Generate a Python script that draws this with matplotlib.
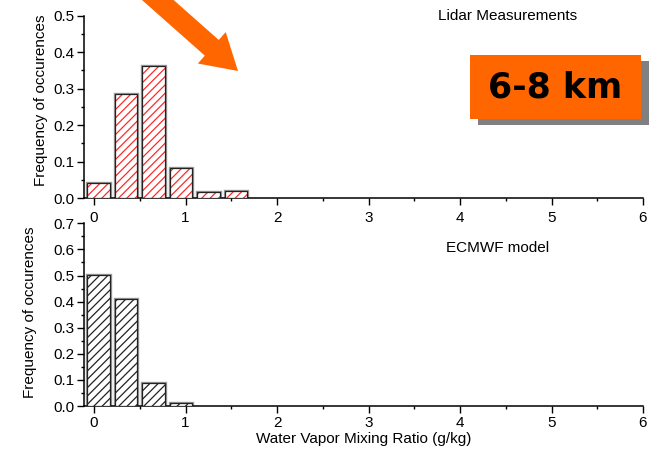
import matplotlib
matplotlib.use("Agg")
import matplotlib.pyplot as plt
from matplotlib.ticker import MultipleLocator, FormatStrFormatter
from matplotlib.patches import Rectangle, Polygon
import numpy as np

plt.rcParams['font.family'] = ['Liberation Sans', 'DejaVu Sans']
plt.rcParams['hatch.linewidth'] = 0.9

# Histogram bins of water vapour mixing ratio (g/kg), 6-8 km layer
bin_centers = [0.05, 0.35, 0.65, 0.95, 1.25, 1.55]
bin_width = 0.3
lidar_freq = [0.041, 0.284, 0.363, 0.082, 0.016, 0.020]
ecmwf_centers = [0.05, 0.35, 0.65, 0.95]
ecmwf_freq = [0.501, 0.409, 0.087, 0.013]

x_ticks = [0, 1, 2, 3, 4, 5, 6]
panel_titles = ["Lidar Measurements", "ECMWF model"]
y_label = "Frequency of occurences"
x_label = "Water Vapor Mixing Ratio (g/kg)"
layer_label = "6-8 km"

FS = 11
W, H = 652, 449
fig = plt.figure(figsize=(W / 100, H / 100), dpi=100)

ax_top = fig.add_axes([84 / W, (H - 198) / H, (643 - 84) / W, (198 - 15.7) / H])
ax_bot = fig.add_axes([84 / W, (H - 406) / H, (643 - 84) / W, (406 - 223.3) / H])

bar_w = bin_width * 0.82


def draw_bars(ax, centers, freqs, hatch_color):
    # soft grey outline behind each bar
    ax.bar(centers, freqs, width=bar_w, facecolor='none', edgecolor='#9a9a9a',
           linewidth=2.4, zorder=2)
    # hatched fill
    ax.bar(centers, freqs, width=bar_w, facecolor='white', edgecolor=hatch_color,
           linewidth=0, hatch='////', zorder=3)
    # crisp outline
    ax.bar(centers, freqs, width=bar_w, facecolor='none', edgecolor='#222222',
           linewidth=0.9, zorder=4)


def style_axis(ax, ymax, xpad):
    ax.set_xlim(-0.11, 6.0)
    ax.set_ylim(0, ymax)
    for s in ('top', 'right'):
        ax.spines[s].set_visible(False)
    for s in ('left', 'bottom'):
        ax.spines[s].set_linewidth(1.1)
    ax.set_xticks(x_ticks)
    ax.xaxis.set_minor_locator(MultipleLocator(0.5))
    ax.yaxis.set_major_locator(MultipleLocator(0.1))
    ax.yaxis.set_minor_locator(MultipleLocator(0.05))
    ax.yaxis.set_major_formatter(FormatStrFormatter('%.1f'))
    ax.tick_params(which='major', direction='out', length=5, width=1.0,
                   labelsize=FS, pad=2)
    ax.tick_params(axis='x', which='major', pad=xpad)
    ax.tick_params(which='minor', direction='out', length=2.5, width=1.0)
    ax.set_facecolor('none')


draw_bars(ax_top, bin_centers, lidar_freq, '#ff2a2a')
style_axis(ax_top, 0.5, 4)
draw_bars(ax_bot, ecmwf_centers, ecmwf_freq, '#222222')
style_axis(ax_bot, 0.7, 2.5)

# vertical axis titles, placed in figure pixels
fig.text(41 / W, 1 - 100 / H, y_label, rotation=90, ha='center', va='center',
         fontsize=FS)
fig.text(30 / W, 1 - 312 / H, y_label, rotation=90, ha='center', va='center',
         fontsize=FS)

ax_top.text(0.757, 1.0, panel_titles[0], transform=ax_top.transAxes,
            ha='center', va='center', fontsize=FS)
ax_bot.text(0.739, 0.865, panel_titles[1], transform=ax_bot.transAxes,
            ha='center', va='center', fontsize=FS)
ax_bot.text(0.5, -0.182, x_label, transform=ax_bot.transAxes,
            ha='center', va='center', fontsize=FS)

# Overlay in pixel units for the highlight arrow and layer box
ov = fig.add_axes([0, 0, 1, 1], zorder=10)
ov.set_xlim(0, W)
ov.set_ylim(H, 0)
ov.axis('off')
ov.patch.set_alpha(0)

orange = '#ff6600'
tip = np.array([238.0, 71.0])
d = np.array([0.749, 0.663])
d = d / np.linalg.norm(d)
n = np.array([-d[1], d[0]])
head_len, head_half, shaft_half = 35.0, 21.0, 10.5
base = tip - d * head_len
tail = tip - d * 140.0
pts = [tail + n * shaft_half, base + n * shaft_half, base + n * head_half, tip,
       base - n * head_half, base - n * shaft_half, tail - n * shaft_half]
ov.add_patch(Polygon(pts, closed=True, facecolor=orange, edgecolor='none'))

ov.add_patch(Rectangle((478, 61), 171, 64, facecolor='#808080', edgecolor='none'))
ov.add_patch(Rectangle((470, 55), 171, 64, facecolor=orange, edgecolor='none'))
ov.text(555.5, 88, layer_label, ha='center', va='center', fontsize=25,
        fontweight='bold', family='DejaVu Sans', color='black')

fig.savefig('out.png', dpi=100)
